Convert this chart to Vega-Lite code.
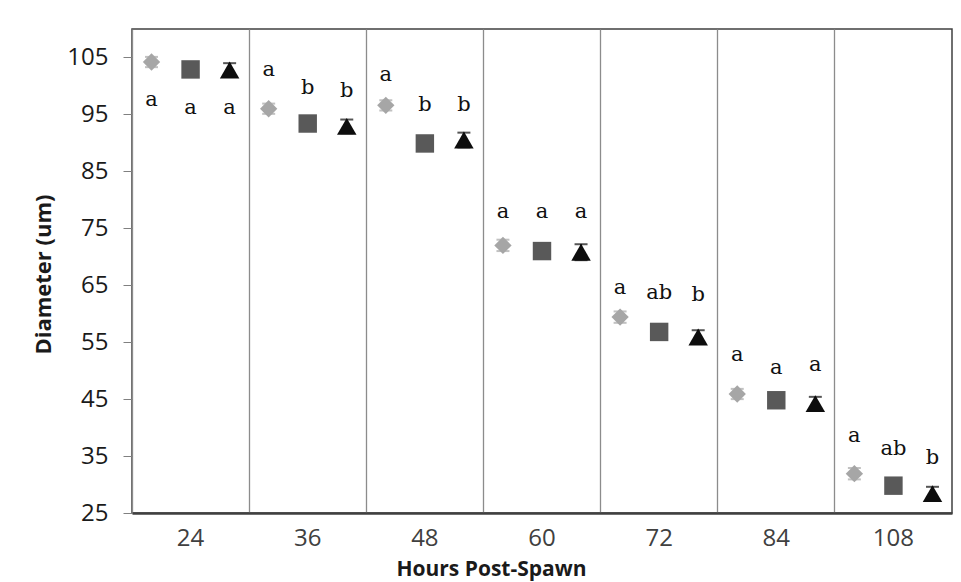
{
  "$schema": "https://vega.github.io/schema/vega-lite/v6.json",
  "width": 820,
  "height": 484,
  "autosize": {"type": "none"},
  "padding": {"left": 132, "top": 29, "right": 9, "bottom": 69},
  "background": "white",
  "config": {
    "view": {"stroke": "#404040", "strokeWidth": 1.5},
    "axis": {"labelFont": "Open Sans", "titleFont": "Open Sans"}
  },
  "data": {
    "values": [
      {"hour": "24", "group": "T1", "diam": 104.2, "err": 0.9, "sig": "a", "labelY": 97.5},
      {"hour": "24", "group": "T2", "diam": 102.9, "err": 0.8, "sig": "a", "labelY": 96.1},
      {"hour": "24", "group": "T3", "diam": 102.8, "err": 1.2, "sig": "a", "labelY": 96.1},
      {"hour": "36", "group": "T1", "diam": 96.0, "err": 0.9, "sig": "a", "labelY": 102.8},
      {"hour": "36", "group": "T2", "diam": 93.4, "err": 0.8, "sig": "b", "labelY": 99.6},
      {"hour": "36", "group": "T3", "diam": 92.9, "err": 1.2, "sig": "b", "labelY": 99.1},
      {"hour": "48", "group": "T1", "diam": 96.6, "err": 0.9, "sig": "a", "labelY": 101.9},
      {"hour": "48", "group": "T2", "diam": 89.9, "err": 1.2, "sig": "b", "labelY": 96.6},
      {"hour": "48", "group": "T3", "diam": 90.5, "err": 1.3, "sig": "b", "labelY": 96.6},
      {"hour": "60", "group": "T1", "diam": 72.0, "err": 1.0, "sig": "a", "labelY": 77.9},
      {"hour": "60", "group": "T2", "diam": 71.0, "err": 0.8, "sig": "a", "labelY": 77.9},
      {"hour": "60", "group": "T3", "diam": 70.8, "err": 1.4, "sig": "a", "labelY": 77.9},
      {"hour": "72", "group": "T1", "diam": 59.4, "err": 1.0, "sig": "a", "labelY": 64.5},
      {"hour": "72", "group": "T2", "diam": 56.8, "err": 0.8, "sig": "ab", "labelY": 63.6},
      {"hour": "72", "group": "T3", "diam": 55.9, "err": 1.2, "sig": "b", "labelY": 63.3},
      {"hour": "84", "group": "T1", "diam": 45.9, "err": 0.9, "sig": "a", "labelY": 52.7},
      {"hour": "84", "group": "T2", "diam": 44.8, "err": 0.8, "sig": "a", "labelY": 50.4},
      {"hour": "84", "group": "T3", "diam": 44.2, "err": 1.2, "sig": "a", "labelY": 51.0},
      {"hour": "108", "group": "T1", "diam": 31.9, "err": 1.0, "sig": "a", "labelY": 38.6},
      {"hour": "108", "group": "T2", "diam": 29.8, "err": 0.8, "sig": "ab", "labelY": 36.3},
      {"hour": "108", "group": "T3", "diam": 28.4, "err": 1.2, "sig": "b", "labelY": 34.7}
    ]
  },
  "encoding": {
    "x": {
      "field": "hour",
      "type": "nominal",
      "scale": {"domain": ["24", "36", "48", "60", "72", "84", "108"], "paddingInner": 0, "paddingOuter": 0},
      "axis": {
        "title": "Hours Post-Spawn",
        "titleFontSize": 21,
        "titleFontWeight": "bold",
        "titleColor": "#1a1a1a",
        "titleX": 359,
        "titleY": 56,
        "titleBaseline": "middle",
        "titleAlign": "center",
        "labelAngle": 0,
        "labelFontSize": 24,
        "labelColor": "#404040",
        "labelPadding": 13,
        "ticks": false,
        "domainColor": "#404040",
        "domainWidth": 2.5,
        "grid": true,
        "gridColor": "#8c8c8c",
        "gridWidth": 1.3,
        "bandPosition": 0
      }
    },
    "xOffset": {
      "field": "group",
      "type": "nominal",
      "scale": {"domain": ["T1", "T2", "T3"], "paddingInner": 0, "paddingOuter": 0}
    }
  },
  "layer": [
    {
      "mark": {"type": "errorbar", "ticks": {"size": 13, "thickness": 2}, "thickness": 2},
      "encoding": {
        "y": {"field": "diam", "type": "quantitative", "title": "Diameter (um)", "scale": {"domain": [25, 110], "nice": false, "zero": false}},
        "yError": {"field": "err"},
        "color": {"field": "group", "type": "nominal", "scale": {"domain": ["T1", "T2", "T3"], "range": ["#a6a6a6", "#595959", "#0d0d0d"]}, "legend": null}
      }
    },
    {
      "mark": {"type": "point", "filled": true, "opacity": 1},
      "encoding": {
        "y": {
          "field": "diam",
          "type": "quantitative",
          "title": "Diameter (um)",
          "scale": {"domain": [25, 110], "nice": false, "zero": false},
          "axis": {
            "title": "Diameter (um)",
            "titleFontSize": 22,
            "titleFontWeight": "bold",
            "titleColor": "#1a1a1a",
            "titleX": -89,
            "titleY": 245,
            "titleBaseline": "middle",
            "values": [25, 35, 45, 55, 65, 75, 85, 95, 105],
            "grid": false,
            "domain": false,
            "tickSize": 9,
            "tickColor": "#808080",
            "labelFontSize": 24,
            "labelColor": "#1a1a1a",
            "labelPadding": 15
          }
        },
        "shape": {"field": "group", "type": "nominal", "scale": {"domain": ["T1", "T2", "T3"], "range": ["diamond", "square", "triangle-up"]}, "legend": null},
        "color": {"field": "group", "type": "nominal", "scale": {"domain": ["T1", "T2", "T3"], "range": ["#a6a6a6", "#595959", "#0d0d0d"]}, "legend": null},
        "size": {"field": "group", "type": "nominal", "scale": {"domain": ["T1", "T2", "T3"], "range": [300, 380, 240]}, "legend": null}
      }
    },
    {
      "mark": {"type": "text", "font": "DejaVu Serif", "fontSize": 21, "baseline": "middle", "align": "center", "color": "#111111"},
      "encoding": {
        "y": {"field": "labelY", "type": "quantitative", "title": "Diameter (um)"},
        "text": {"field": "sig"}
      }
    }
  ]
}
